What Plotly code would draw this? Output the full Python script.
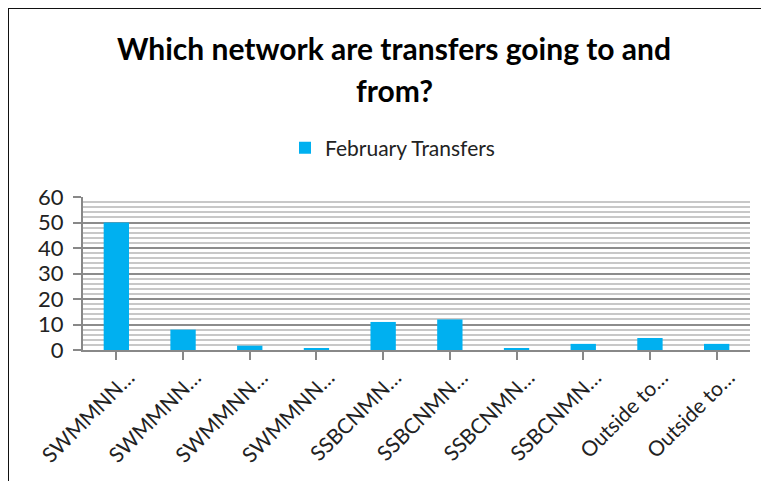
import plotly.graph_objects as go

categories = ["SWMMNN…", "SWMMNN…", "SWMMNN…", "SWMMNN…", "SSBCNMN…",
              "SSBCNMN…", "SSBCNMN…", "SSBCNMN…", "Outside to…", "Outside to…"]
values = [50, 8, 1.7, 0.7, 11, 12, 0.7, 2.4, 4.7, 2.4]
series_name = "February Transfers"
title_lines = ["Which network are transfers going to and", "from?"]
y_ticks = [0, 10, 20, 30, 40, 50, 60]

x_idx = list(range(len(categories)))

fig = go.Figure()
fig.add_trace(go.Bar(x=x_idx, y=values, name=series_name,
                     marker=dict(color="#00B0F0", line=dict(width=0)),
                     showlegend=True))

# page body has an 8px margin; work in figure coordinates (screen - 8)
OFF = 8
W, H = 769 - OFF, 481 - OFF
L, R, T, B = 83 - OFF, 19, 197 - OFF, 131
pw = W - L - R
ph = H - T - B

def px_x(p):
    return (p - OFF - L) / pw

def px_y(p):
    return (H - B - (p - OFF)) / ph

font_fam = "Lato, 'Open Sans', sans-serif"

fig.update_layout(
    width=W, height=H,
    margin=dict(l=L, r=R, t=T, b=B, autoexpand=False),
    paper_bgcolor="white", plot_bgcolor="white",
    bargap=0.62,
    font=dict(family=font_fam, color="black"),
    showlegend=True,
    legend=dict(orientation="h", x=px_x(285), xanchor="left",
                y=px_y(148), yanchor="middle",
                font=dict(size=21, color="#222"), bgcolor="rgba(0,0,0,0)"),
    xaxis=dict(
        tickmode="array", tickvals=x_idx, ticktext=categories,
        range=[-0.5, len(categories) - 0.5],
        tickangle=-45, tickfont=dict(size=21, color="#222"),
        ticklabelshift=12, ticklabelstandoff=-3, automargin=False,
        ticks="outside", tickson="boundaries", ticklen=8, tickcolor="#888", tickwidth=2,
        showline=True, linecolor="#888", linewidth=2,
        showgrid=False, zeroline=False,
    ),
    yaxis=dict(
        range=[0, 60], tickvals=y_ticks, automargin=False,
        tickfont=dict(size=22, color="#222"), ticklabelstandoff=5,
        ticks="outside", ticklen=8, tickcolor="#888", tickwidth=2,
        showline=True, linecolor="#888", linewidth=2,
        showgrid=True, gridcolor="#8c8c8c", gridwidth=2,
        zeroline=False,
        minor=dict(dtick=2, showgrid=True, gridcolor="#c8c8c8", gridwidth=2),
    ),
)

fig.add_annotation(text="<b>" + title_lines[0] + "</b>", xref="paper", yref="paper",
                   x=px_x(394), y=px_y(48), showarrow=False,
                   font=dict(size=30, color="black"), xanchor="center", yanchor="middle")
fig.add_annotation(text="<b>" + title_lines[1] + "</b>", xref="paper", yref="paper",
                   x=px_x(394), y=px_y(90), showarrow=False,
                   font=dict(size=30, color="black"), xanchor="center", yanchor="middle")

fig.add_shape(type="rect", xref="paper", yref="paper",
              x0=px_x(8), x1=px_x(800), y0=px_y(520), y1=px_y(8),
              line=dict(color="#111", width=2), fillcolor="rgba(0,0,0,0)", layer="below")

fig.write_html("out.html")
